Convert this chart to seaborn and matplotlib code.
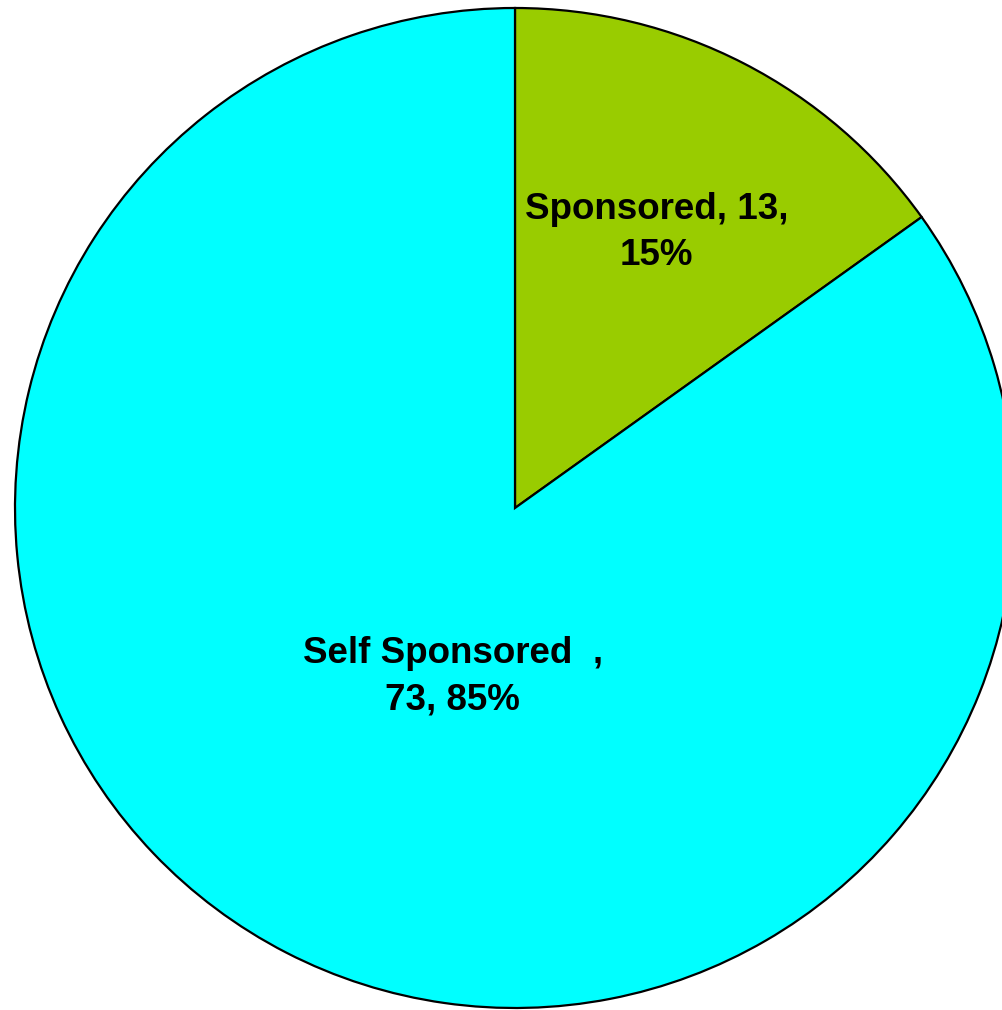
import numpy as np
import matplotlib
matplotlib.use("Agg")
import matplotlib.pyplot as plt
import seaborn as sns

# data
categories = ["Sponsored", "Self Sponsored  "]
counts = [13, 73]
colors = ["#99CC00", "#00FFFF"]
# how far out along each wedge the label sits (fraction of radius)
label_dist = [0.62, 0.36]
label_angle_shift = [0, 7]

sns.set_style("white")
plt.rcParams['font.family'] = ['Liberation Sans', 'DejaVu Sans']

fig = plt.figure(figsize=(10.03, 10.10), dpi=100)
ax = fig.add_axes([0, 0, 1, 1])

R = 500
cx, cy = 515, 1010 - 508
wedges, _ = ax.pie(counts, colors=colors, startangle=90, counterclock=False,
                   radius=R, center=(cx, cy),
                   wedgeprops=dict(edgecolor="black", linewidth=1.6))

total = sum(counts)
for w, cat, n, d, s in zip(wedges, categories, counts, label_dist, label_angle_shift):
    mid = np.deg2rad((w.theta1 + w.theta2) / 2 + s)
    pct = round(100 * n / total)
    if cat.startswith("Self"):
        txt = f"{cat},\n{n}, {pct}%"
    else:
        txt = f"{cat}, {n},\n{pct}%"
    ax.text(cx + d * R * np.cos(mid), cy + d * R * np.sin(mid), txt,
            ha="center", va="center", fontsize=26.5, fontweight="bold",
            color="black", linespacing=1.42)

ax.set_xlim(0, 1003)
ax.set_ylim(0, 1010)
ax.set_aspect("equal")
ax.axis("off")

fig.savefig("out.png", dpi=100, facecolor="white")
